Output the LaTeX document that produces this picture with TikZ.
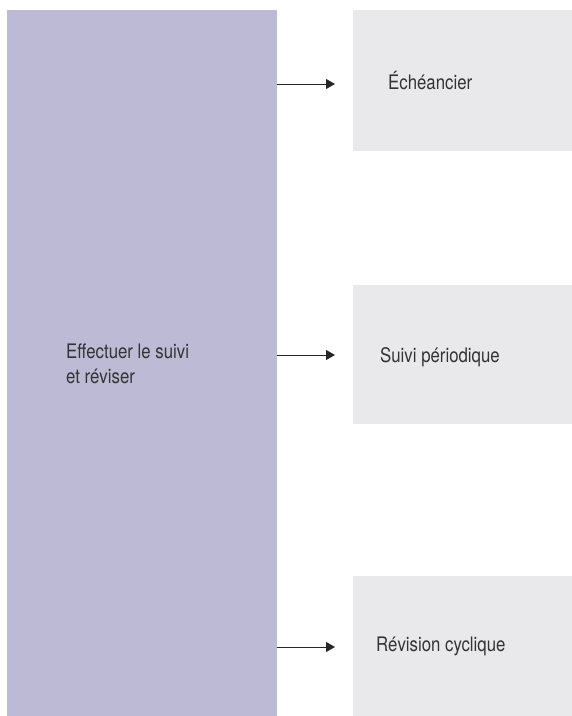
\documentclass[tikz,border=0pt]{standalone}
\usepackage{fontspec}
\setmainfont{TeX Gyre Heros}[FakeStretch=0.84]
\usetikzlibrary{arrows.meta}
\definecolor{mainfill}{HTML}{BDBAD5}
\definecolor{subfill}{HTML}{E9E9EB}
\definecolor{labelgray}{HTML}{333333}
\tikzset{
  mainbox/.style={fill=mainfill, draw=none},
  subbox/.style={fill=subfill, draw=none},
  lbl/.style={anchor=base west, text=labelgray, font=\fontsize{20}{25}\selectfont, inner sep=0pt, align=left},
  link/.style={draw=black!85, line width=1pt, -{Triangle[length=9pt,width=10pt]}}
}
\begin{document}
\begin{tikzpicture}[x=1pt,y=-1pt]
  \useasboundingbox (0,0) rectangle (572,716);
  % main step
  \fill[mainbox] (7,10) rectangle (277,716);
  \node[lbl] (main) at (66,383) {Effectuer le suivi\\et réviser};
  % sub steps
  \fill[subbox] (353,10) rectangle (572,151);
  \fill[subbox] (353,285) rectangle (572,424);
  \fill[subbox] (353,576) rectangle (572,716);
  \node[lbl] (s1) at (388,89) {Échéancier};
  \node[lbl] (s2) at (380,362) {Suivi périodique};
  \node[lbl] (s3) at (376,651) {Révision cyclique};
  % connectors
  \coordinate (a1) at (277,84);  \coordinate (b1) at (335,84);
  \coordinate (a2) at (277,355); \coordinate (b2) at (335,355);
  \coordinate (a3) at (277,647); \coordinate (b3) at (335,647);
  \draw[link] (a1) -- (b1);
  \draw[link] (a2) -- (b2);
  \draw[link] (a3) -- (b3);
\end{tikzpicture}
\end{document}
